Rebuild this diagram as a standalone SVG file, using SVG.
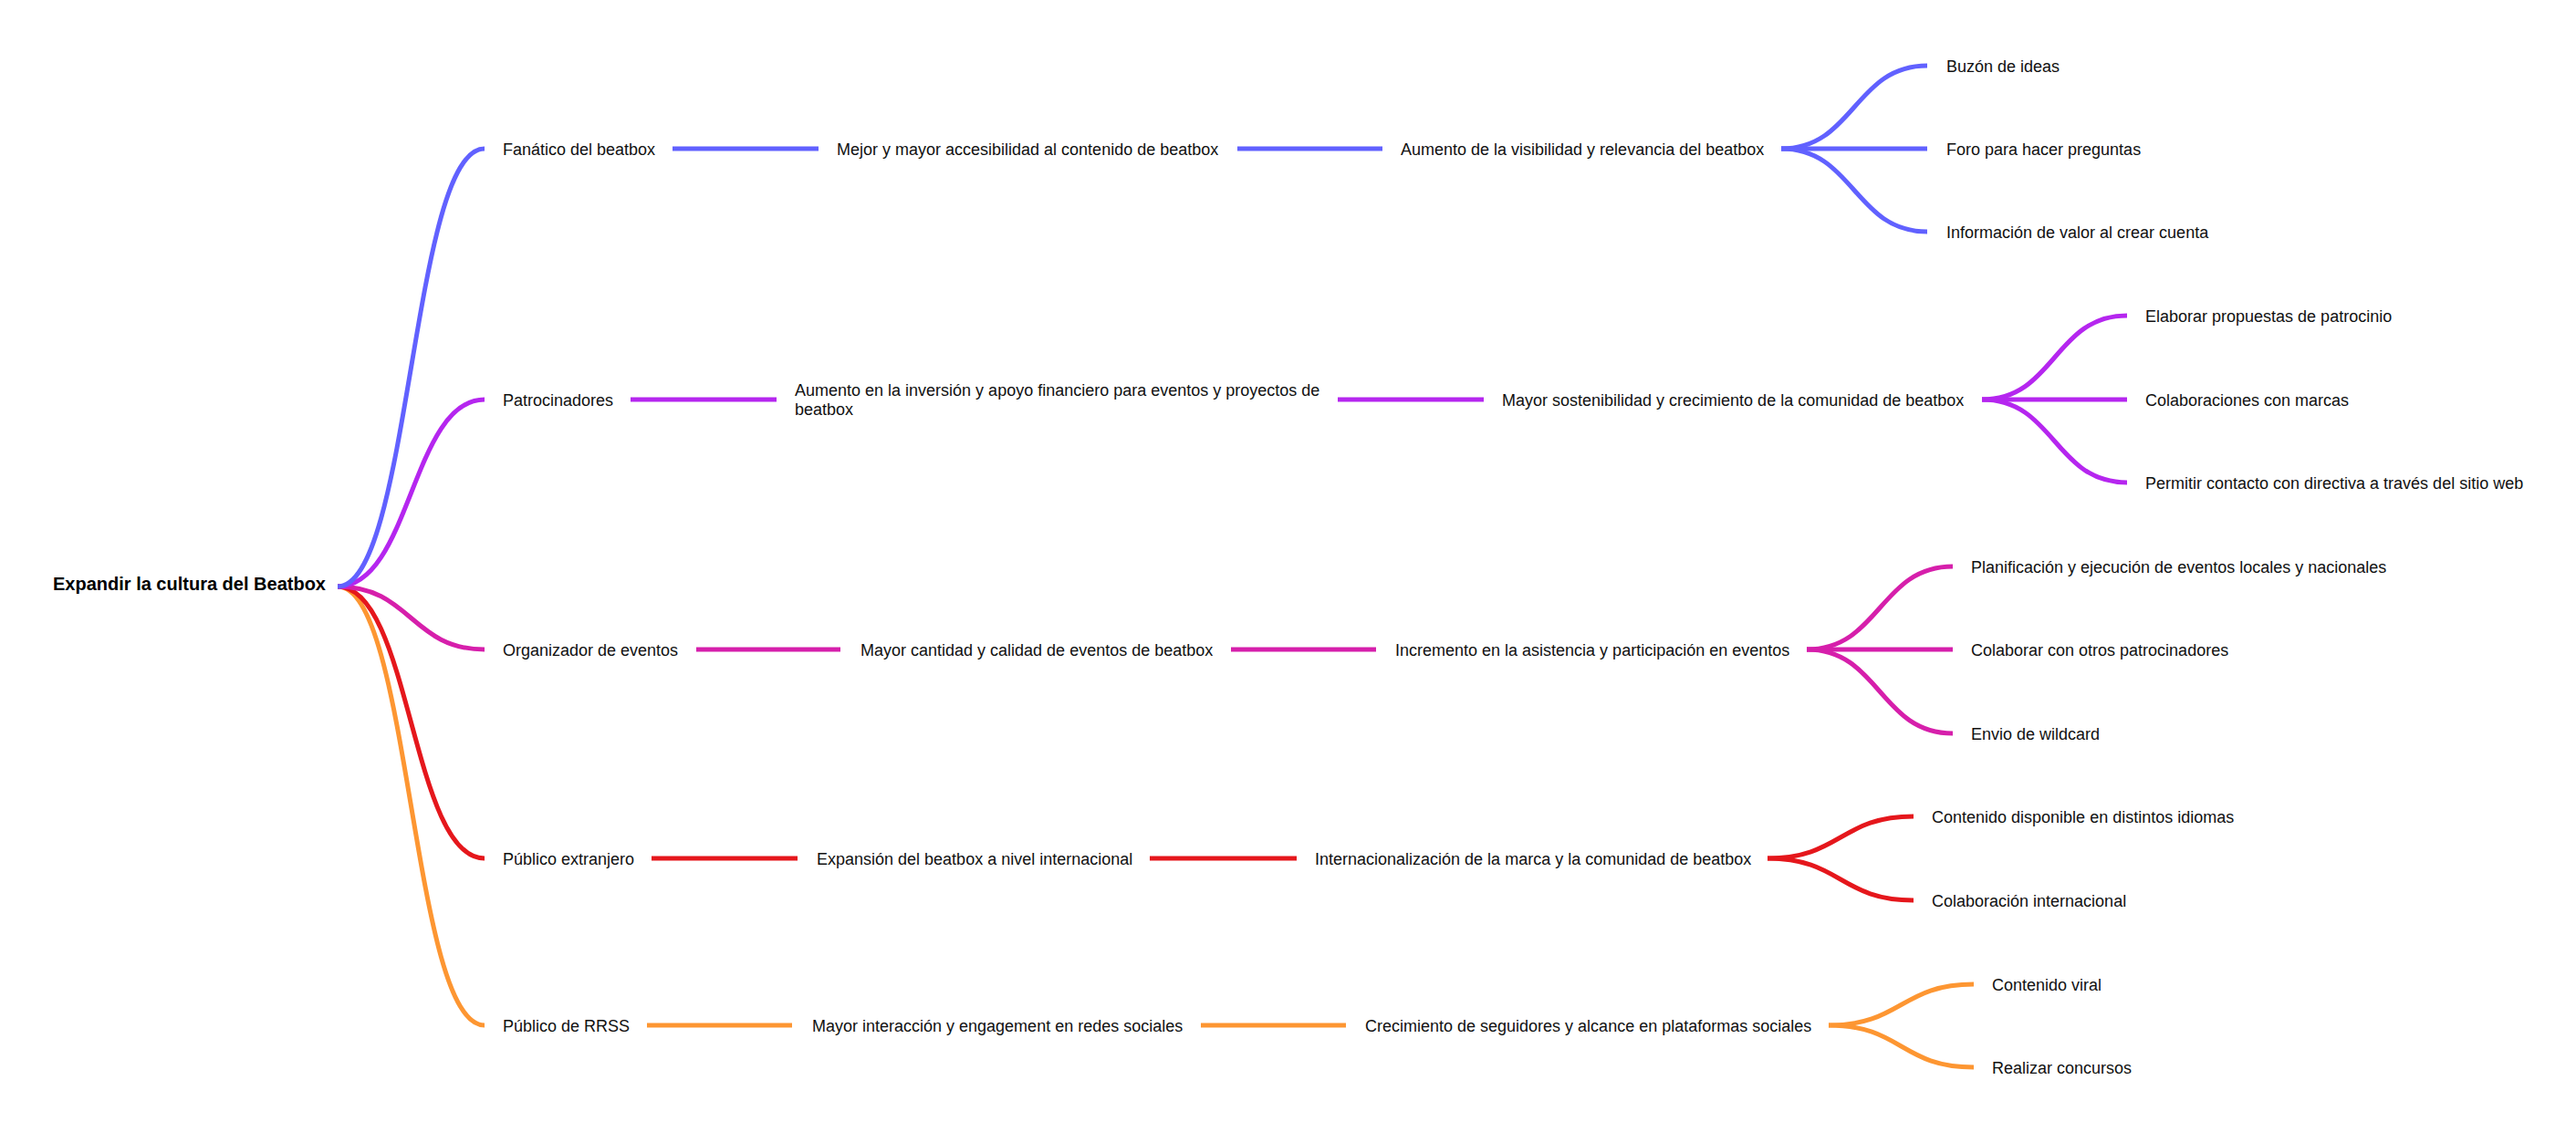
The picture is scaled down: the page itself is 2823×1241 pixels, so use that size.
<svg xmlns="http://www.w3.org/2000/svg" width="2823" height="1241" viewBox="0 0 2823 1241">
  <style>
    .bg { fill: #ffffff; }
    text { font-family: "Liberation Sans", Arial, sans-serif; font-size: 18px; fill: #111111; }
    .root { font-size: 20px; font-weight: bold; fill: #000000; }
    .edge { fill: none; stroke-width: 5; stroke-linecap: butt; }
    .c1 { stroke: #6161ff; }
    .c2 { stroke: #b526ef; }
    .c3 { stroke: #d61fab; }
    .c4 { stroke: #e5171c; }
    .c5 { stroke: #fd9632; }
  </style>
  <rect class="bg" x="0" y="0" width="2823" height="1241"/>

  <!-- connectors, drawn bottom branch first so the top branch sits above at the hub -->
  <g id="connectors">
    <!-- Público de RRSS -->
    <path class="edge c5" d="M370,643 C450,643 451,1124 531,1124"/>
    <path class="edge c5" d="M709,1124 H868"/>
    <path class="edge c5" d="M1316,1124 H1475"/>
    <path class="edge c5" d="M2004,1124 C2084,1124 2083,1079 2163,1079"/>
    <path class="edge c5" d="M2004,1124 C2084,1124 2083,1170 2163,1170"/>
    <!-- Público extranjero -->
    <path class="edge c4" d="M370,643 C450,643 451,941 531,941"/>
    <path class="edge c4" d="M714,941 H874"/>
    <path class="edge c4" d="M1260,941 H1421"/>
    <path class="edge c4" d="M1937,941 C2017,941 2017,895 2097,895"/>
    <path class="edge c4" d="M1937,941 C2017,941 2017,987 2097,987"/>
    <!-- Organizador de eventos -->
    <path class="edge c3" d="M370,643 C450,643 451,712 531,712"/>
    <path class="edge c3" d="M763,712 H921"/>
    <path class="edge c3" d="M1349,712 H1508"/>
    <path class="edge c3" d="M1980,712 C2060,712 2060,621 2140,621"/>
    <path class="edge c3" d="M1980,712 H2140"/>
    <path class="edge c3" d="M1980,712 C2060,712 2060,804 2140,804"/>
    <!-- Patrocinadores -->
    <path class="edge c2" d="M370,643 C450,643 451,438 531,438"/>
    <path class="edge c2" d="M691,438 H851"/>
    <path class="edge c2" d="M1466,438 H1626"/>
    <path class="edge c2" d="M2172,438 C2252,438 2251,346 2331,346"/>
    <path class="edge c2" d="M2172,438 H2331"/>
    <path class="edge c2" d="M2172,438 C2252,438 2251,529 2331,529"/>
    <!-- Fanático del beatbox -->
    <path class="edge c1" d="M370,643 C450,643 451,163 531,163"/>
    <path class="edge c1" d="M737,163 H897"/>
    <path class="edge c1" d="M1356,163 H1515"/>
    <path class="edge c1" d="M1952,163 C2032,163 2032,72 2112,72"/>
    <path class="edge c1" d="M1952,163 H2112"/>
    <path class="edge c1" d="M1952,163 C2032,163 2032,254 2112,254"/>
  </g>

  <!-- central topic -->
  <g id="root"><text class="root" x="58" y="647">Expandir la cultura del Beatbox</text></g>

  <!-- Fanático del beatbox branch -->
  <g id="fan"><text x="551" y="170">Fanático del beatbox</text></g>
  <g id="fan-goal"><text x="917" y="170">Mejor y mayor accesibilidad al contenido de beatbox</text></g>
  <g id="fan-result"><text x="1535" y="170">Aumento de la visibilidad y relevancia del beatbox</text></g>
  <g id="fan-a1"><text x="2133" y="79">Buzón de ideas</text></g>
  <g id="fan-a2"><text x="2133" y="170">Foro para hacer preguntas</text></g>
  <g id="fan-a3"><text x="2133" y="261">Información de valor al crear cuenta</text></g>

  <!-- Patrocinadores branch -->
  <g id="spon"><text x="551" y="445">Patrocinadores</text></g>
  <g id="spon-goal"><text x="871" y="434">Aumento en la inversión y apoyo financiero para eventos y proyectos de</text><text x="871" y="455">beatbox</text></g>
  <g id="spon-result"><text x="1646" y="445">Mayor sostenibilidad y crecimiento de la comunidad de beatbox</text></g>
  <g id="spon-a1"><text x="2351" y="353">Elaborar propuestas de patrocinio</text></g>
  <g id="spon-a2"><text x="2351" y="445">Colaboraciones con marcas</text></g>
  <g id="spon-a3"><text x="2351" y="536">Permitir contacto con directiva a través del sitio web</text></g>

  <!-- Organizador de eventos branch -->
  <g id="org"><text x="551" y="719">Organizador de eventos</text></g>
  <g id="org-goal"><text x="943" y="719">Mayor cantidad y calidad de eventos de beatbox</text></g>
  <g id="org-result"><text x="1529" y="719">Incremento en la asistencia y participación en eventos</text></g>
  <g id="org-a1"><text x="2160" y="628">Planificación y ejecución de eventos locales y nacionales</text></g>
  <g id="org-a2"><text x="2160" y="719">Colaborar con otros patrocinadores</text></g>
  <g id="org-a3"><text x="2160" y="811">Envio de wildcard</text></g>

  <!-- Público extranjero branch -->
  <g id="ext"><text x="551" y="948">Público extranjero</text></g>
  <g id="ext-goal"><text x="895" y="948">Expansión del beatbox a nivel internacional</text></g>
  <g id="ext-result"><text x="1441" y="948">Internacionalización de la marca y la comunidad de beatbox</text></g>
  <g id="ext-a1"><text x="2117" y="902">Contenido disponible en distintos idiomas</text></g>
  <g id="ext-a2"><text x="2117" y="994">Colaboración internacional</text></g>

  <!-- Público de RRSS branch -->
  <g id="rrss"><text x="551" y="1131">Público de RRSS</text></g>
  <g id="rrss-goal"><text x="890" y="1131">Mayor interacción y engagement en redes sociales</text></g>
  <g id="rrss-result"><text x="1496" y="1131">Crecimiento de seguidores y alcance en plataformas sociales</text></g>
  <g id="rrss-a1"><text x="2183" y="1086">Contenido viral</text></g>
  <g id="rrss-a2"><text x="2183" y="1177">Realizar concursos</text></g>
</svg>
